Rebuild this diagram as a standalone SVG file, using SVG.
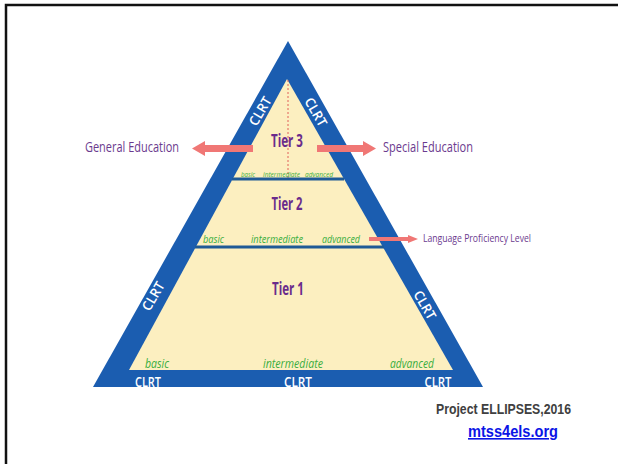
<svg xmlns="http://www.w3.org/2000/svg" width="618" height="464" viewBox="0 0 618 464">
  <defs>
    <style>
      .frame { fill: none; stroke: #111; stroke-width: 2.5; }
      .band { fill: #1b5db0; }
      .cream { fill: #fcefc0; }
      .divider { stroke: #1f5a96; stroke-width: 3; }
      .guide { stroke: #e0605a; stroke-width: 1; stroke-dasharray: 2 2; }
      .tier { font-family: "Open Sans", "Liberation Sans", sans-serif; font-weight: bold; fill: #6a2b8c; text-anchor: middle; }
      .lvl { font-family: "Open Sans", "Liberation Sans", sans-serif; font-style: italic; fill: #3aae3e; }
      .clrt { font-family: "Open Sans", "Liberation Sans", sans-serif; font-weight: 600; fill: #ffffff; text-anchor: middle; }
      .side { font-family: "Open Sans", "Liberation Sans", sans-serif; fill: #6b3a8e; }
      .credit { font-family: "Liberation Sans", sans-serif; font-weight: bold; fill: #404040; }
      .link { font-family: "Liberation Sans", sans-serif; font-weight: bold; fill: #0a14e6; text-decoration: underline; }
      .arrow { fill: #f07775; }
    </style>
  </defs>

  <!-- page frame -->
  <path class="frame" d="M6,464 V5 H618"/>

  <!-- pyramid body -->
  <g id="pyramid">
    <polygon class="band" points="288,41 93,387 483,387"/>
    <polygon class="cream" points="287,79 129,370 453,370"/>
    <line class="guide" x1="288" y1="80" x2="288" y2="179"/>
    <line class="divider" x1="232" y1="179" x2="344" y2="179"/>
    <line class="divider" x1="195" y1="247" x2="384" y2="247"/>
  </g>

  <!-- CLRT labels on the band -->
  <g id="clrt">
    <text class="clrt" font-size="13.5" transform="translate(260,111) rotate(-60)" textLength="31" lengthAdjust="spacingAndGlyphs" dy="5">CLRT</text>
    <text class="clrt" font-size="13.5" transform="translate(316,112) rotate(60)" textLength="31" lengthAdjust="spacingAndGlyphs" dy="5">CLRT</text>
    <text class="clrt" font-size="13.5" transform="translate(153,296) rotate(-60)" textLength="31" lengthAdjust="spacingAndGlyphs" dy="5">CLRT</text>
    <text class="clrt" font-size="13.5" transform="translate(425,305) rotate(60)" textLength="31" lengthAdjust="spacingAndGlyphs" dy="5">CLRT</text>
    <text class="clrt" x="148" y="386.5" font-size="14.5" textLength="26" lengthAdjust="spacingAndGlyphs">CLRT</text>
    <text class="clrt" x="298" y="386.5" font-size="14.5" textLength="28" lengthAdjust="spacingAndGlyphs">CLRT</text>
    <text class="clrt" x="438" y="386.5" font-size="14.5" textLength="27" lengthAdjust="spacingAndGlyphs">CLRT</text>
  </g>

  <!-- Tier 3 -->
  <g id="tier3">
    <text class="tier" x="287" y="147" font-size="17" textLength="32" lengthAdjust="spacingAndGlyphs">Tier 3</text>
    <text class="lvl" x="241" y="177" font-size="8" textLength="14" lengthAdjust="spacingAndGlyphs">basic</text>
    <text class="lvl" x="263" y="177" font-size="8" textLength="37" lengthAdjust="spacingAndGlyphs">intermediate</text>
    <text class="lvl" x="305" y="177" font-size="8" textLength="28" lengthAdjust="spacingAndGlyphs">advanced</text>
  </g>

  <!-- Tier 2 -->
  <g id="tier2">
    <text class="tier" x="287" y="210" font-size="17" textLength="31" lengthAdjust="spacingAndGlyphs">Tier 2</text>
    <text class="lvl" x="203" y="243" font-size="11.5" textLength="21" lengthAdjust="spacingAndGlyphs">basic</text>
    <text class="lvl" x="251" y="243" font-size="11.5" textLength="52" lengthAdjust="spacingAndGlyphs">intermediate</text>
    <text class="lvl" x="322" y="243" font-size="11.5" textLength="38" lengthAdjust="spacingAndGlyphs">advanced</text>
  </g>

  <!-- Tier 1 -->
  <g id="tier1">
    <text class="tier" x="288" y="295" font-size="17" textLength="32" lengthAdjust="spacingAndGlyphs">Tier 1</text>
    <text class="lvl" x="145" y="368" font-size="12" textLength="24" lengthAdjust="spacingAndGlyphs">basic</text>
    <text class="lvl" x="263" y="368" font-size="12" textLength="60" lengthAdjust="spacingAndGlyphs">intermediate</text>
    <text class="lvl" x="390" y="368" font-size="12" textLength="44" lengthAdjust="spacingAndGlyphs">advanced</text>
  </g>

  <!-- side captions -->
  <g id="general-education">
    <text class="side" x="85" y="152" font-size="15" textLength="94" lengthAdjust="spacingAndGlyphs">General Education</text>
  </g>
  <g id="special-education">
    <text class="side" x="383" y="152" font-size="15" textLength="90" lengthAdjust="spacingAndGlyphs">Special Education</text>
  </g>
  <g id="language-proficiency">
    <text class="side" x="423" y="242" font-size="10.5" textLength="108" lengthAdjust="spacingAndGlyphs">Language Proficiency Level</text>
  </g>

  <!-- connectors -->
  <g id="connectors">
    <polygon class="arrow" points="253,145 205,145 205,141 192,148.5 205,156 205,152 253,152"/>
    <polygon class="arrow" points="317,145 363,145 363,141 376,148.5 363,156 363,152 317,152"/>
    <polygon class="arrow" points="369,237 408,237 408,235 418,239 408,243 408,241 369,241"/>
  </g>

  <!-- credits -->
  <g id="credits">
    <text class="credit" x="436" y="414" font-size="14.5" textLength="135" lengthAdjust="spacingAndGlyphs">Project ELLIPSES,2016</text>
    <text class="link" x="468" y="437" font-size="16" textLength="90" lengthAdjust="spacingAndGlyphs">mtss4els.org</text>
  </g>
</svg>
